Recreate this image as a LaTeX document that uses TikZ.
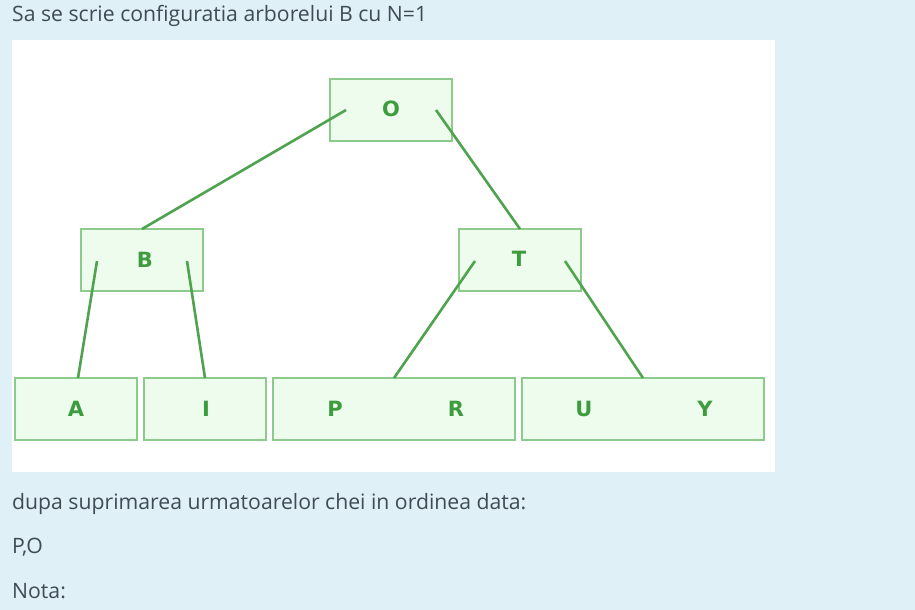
\documentclass[tikz,border=0pt]{standalone}
\usepackage{fontspec}
\setmainfont{Open Sans}
\newfontfamily\keyfont{DejaVu Sans}
\definecolor{pagebg}{HTML}{DFF0F7}
\definecolor{boxfill}{HTML}{EEFCEE}
\definecolor{boxdraw}{HTML}{8CCB8C}
\definecolor{edgecol}{HTML}{4FA34F}
\definecolor{keycol}{HTML}{3E9C3E}
\definecolor{txtcol}{HTML}{3F4B55}
\begin{document}
\begin{tikzpicture}[x=1pt,y=-1pt,
  bnode/.style={draw=boxdraw, fill=boxfill, line width=2.2pt, minimum width=122pt, minimum height=62pt, inner sep=0pt, outer sep=0pt},
  wnode/.style={bnode, minimum width=242pt},
  keylbl/.style={text=keycol, font=\keyfont\bfseries\fontsize{21}{24}\selectfont, inner sep=0pt},
  edge/.style={draw=edgecol, line width=2.6pt},
  para/.style={text=txtcol, font=\fontsize{21.2}{25}\selectfont, anchor=base west, inner sep=0pt}]
\useasboundingbox (0,0) rectangle (915,610);
\fill[pagebg] (0,0) rectangle (915,610);
\fill[white] (12,40) rectangle (775,472);
% boxes
\node[bnode] (O) at (391,110) {};
\node[bnode] (B) at (142,260) {};
\node[bnode] (T) at (520,260) {};
\node[bnode] (A) at (76,409) {};
\node[bnode] (I) at (205,409) {};
\node[wnode] (PR) at (394,409) {};
\node[wnode] (UY) at (643,409) {};
% keys
\node[keylbl] (kO) at (391,109) {O};
\node[keylbl] (kB) at (145,260) {B};
\node[keylbl] (kT) at (519,259) {T};
\node[keylbl] (kA) at (76,409) {A};
\node[keylbl] (kI) at (206,409) {I};
\node[keylbl] (kP) at (335,409) {P};
\node[keylbl] (kR) at (456,409) {R};
\node[keylbl] (kU) at (584,409) {U};
\node[keylbl] (kY) at (705,409) {Y};
% edges
\draw[edge] ([xshift=-45pt]O.center) -- (B.north);
\draw[edge] ([xshift=45pt]O.center) -- (T.north);
\draw[edge] ([xshift=-45pt,yshift=-1pt]B.center) -- ([xshift=2pt]A.north);
\draw[edge] ([xshift=45pt,yshift=-1pt]B.center) -- (I.north);
\draw[edge] ([xshift=-45pt,yshift=-1pt]T.center) -- (PR.north);
\draw[edge] ([xshift=45pt,yshift=-1pt]T.center) -- (UY.north);
% texts
\node[para] (t1) at (12,22) {Sa se scrie configuratia arborelui B cu N=1};
\node[para] (t2) at (12,509) {dupa suprimarea urmatoarelor chei in ordinea data:};
\node[para] (t3) at (12,553) {P,O};
\node[para] (t4) at (12,598) {Nota:};
\end{tikzpicture}
\end{document}
